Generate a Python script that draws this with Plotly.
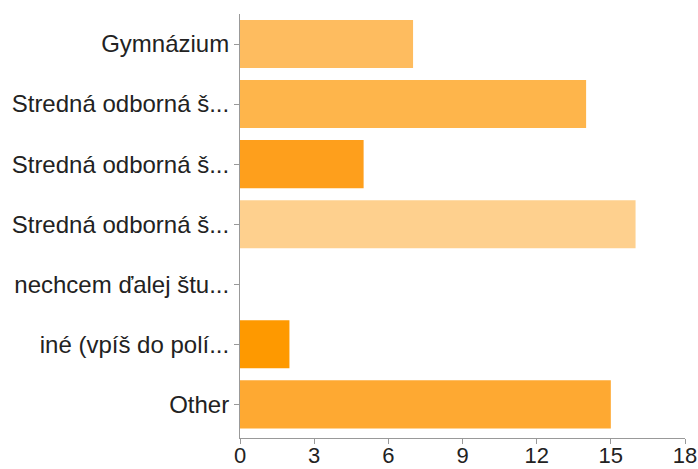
import plotly.graph_objects as go

categories = ["Gymnázium", "Stredná odborná š...", "Stredná odborná š...",
              "Stredná odborná š...", "nechcem ďalej štu...", "iné (vpíš do polí...", "Other"]
values = [7, 14, 5, 16, 0, 2, 15]
colors = ["#FEBC5F", "#FEB54B", "#FE9F1C", "#FED08E", "#FEB040", "#FE9900", "#FEA932"]
x_ticks = [0, 3, 6, 9, 12, 15, 18]

positions = list(range(len(categories)))

fig = go.Figure(go.Bar(
    x=values, y=positions, orientation="h",
    marker=dict(color=colors, line=dict(width=0)),
    width=0.8,
))

fig.update_layout(
    width=698, height=469,
    margin=dict(l=240, r=13, t=14, b=31),
    paper_bgcolor="white", plot_bgcolor="white",
    font=dict(family="Liberation Sans, Arial, sans-serif", size=24, color="#222222"),
    showlegend=False,
)
fig.update_xaxes(
    range=[0, 18], tickvals=x_ticks, ticktext=[str(t) for t in x_ticks],
    showgrid=False, zeroline=False, showline=True, linecolor="#999999", linewidth=1,
    ticks="outside", ticklen=5, tickcolor="#999999", tickfont=dict(size=22),
    ticklabelstandoff=-7,
    automargin=False,
)
fig.update_yaxes(
    range=[len(categories) - 0.44, -0.5], tickvals=positions, ticktext=categories,
    showgrid=False, zeroline=False, showline=True, linecolor="#999999", linewidth=1,
    ticks="outside", ticklen=5, tickcolor="#999999", tickfont=dict(size=24),
    automargin=False,
)

fig.write_html(
    "out.html",
    config={"displayModeBar": False},
    post_script="document.body.style.margin='0';document.body.style.overflow='hidden';",
)
